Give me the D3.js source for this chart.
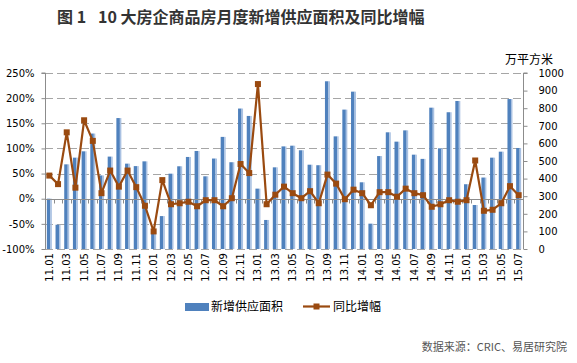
<!DOCTYPE html>
<html><head><meta charset="utf-8">
<script src="https://cdn.jsdelivr.net/npm/d3@7"></script>
<style>
html,body{margin:0;padding:0;background:#fff;}
svg{display:block;}
</style></head>
<body>
<svg id="chart" width="577" height="363"></svg>
<script>
const months = ["11.01","11.02","11.03","11.04","11.05","11.06","11.07","11.08","11.09","11.10","11.11","11.12",
"12.01","12.02","12.03","12.04","12.05","12.06","12.07","12.08","12.09","12.10","12.11","12.12",
"13.01","13.02","13.03","13.04","13.05","13.06","13.07","13.08","13.09","13.10","13.11","13.12",
"14.01","14.02","14.03","14.04","14.05","14.06","14.07","14.08","14.09","14.10","14.11","14.12",
"15.01","15.02","15.03","15.04","15.05","15.06","15.07"];
// 新增供应面积 (万平方米)
const supply = [286,138,481,519,555,656,418,525,744,485,471,498,
108,187,428,470,523,557,413,514,637,493,798,756,
343,165,464,583,587,561,479,476,953,640,792,894,
379,144,528,663,610,674,536,512,803,572,777,841,
368,250,406,519,553,852,574];
// 同比增幅 (%)
const yoy = [46,29,132,22,156,115,11,56,24,56,23,-14,
-65,37,-11,-9,-6,-15,-3,-3,-15,1,69,51,
228,-11,8,24,11,1,15,-9,48,30,-1,18,
11,-13,13,13,4,20,11,7,-16,-11,-3,-6,
-3,76,-24,-22,-9,25,7];
const leftTicks = [-100,-50,0,50,100,150,200,250];
const rightTicks = [0,100,200,300,400,500,600,700,800,900,1000];
const xLabels = months.filter((d,i)=>i%2===0);

const svg = d3.select("#chart");
const L=45, R=523, T=73, B=249;
const x = d3.scaleBand().domain(months).range([L,R]).padding(0);
const yL = d3.scaleLinear().domain([-100,250]).range([B,T]);
const yR = d3.scaleLinear().domain([0,1000]).range([B,T]);
const font = "'DejaVu Sans', Verdana, sans-serif";
const cjk = "'Noto Sans CJK SC', sans-serif";
const lineColor = "#9a4a10";
const barColor = "#4f81bd";

// title
svg.append("text").attr("x",57).attr("y",23).attr("font-family",cjk).attr("font-weight",700)
  .attr("font-size",16).attr("fill","#333").text("图 1");
svg.append("text").attr("x",98).attr("y",23).attr("font-family",cjk).attr("font-weight",700)
  .attr("font-size",16).attr("fill","#333").text("10 大房企商品房月度新增供应面积及同比增幅");

// gridlines
svg.append("g").selectAll("line").data(leftTicks.filter(d=>d!==0)).join("line")
  .attr("x1",L).attr("x2",R).attr("y1",d=>Math.round(yL(d))+0.5).attr("y2",d=>Math.round(yL(d))+0.5)
  .attr("stroke","#a6a6a6").attr("stroke-width",1).attr("stroke-dasharray","8,4");

// bars
const bw = 3.5, sw = 1.5;
const gb = svg.append("g");
gb.selectAll("rect.m").data(months).join("rect").attr("class","m")
  .attr("x",(d,i)=>x(d)+x.bandwidth()/2-2.5).attr("width",bw)
  .attr("y",(d,i)=>yR(supply[i])).attr("height",(d,i)=>B-yR(supply[i]))
  .attr("fill",barColor);
gb.selectAll("rect.s").data(months).join("rect").attr("class","s")
  .attr("x",(d,i)=>x(d)+x.bandwidth()/2-2.5+bw).attr("width",sw)
  .attr("y",(d,i)=>yR(supply[i])).attr("height",(d,i)=>B-yR(supply[i]))
  .attr("fill","#a9c1e2");

// zero axis (category axis)
const y0 = Math.round(yL(0))+0.5;
svg.append("line").attr("x1",L).attr("x2",R).attr("y1",y0).attr("y2",y0).attr("stroke","#8c8c8c");
svg.append("g").selectAll("line").data(months.concat(["end"])).join("line")
  .attr("x1",(d,i)=>Math.round(L+i*x.bandwidth())+0.5).attr("x2",(d,i)=>Math.round(L+i*x.bandwidth())+0.5)
  .attr("y1",y0).attr("y2",y0+4).attr("stroke","#8c8c8c");

// left axis
const axL = svg.append("g").attr("transform",`translate(${L+0.5},0)`)
  .call(d3.axisLeft(yL).tickValues(leftTicks).tickSize(4).tickPadding(7).tickFormat(d=>d+"%"));
axL.selectAll("path,line").attr("stroke","#8c8c8c");
axL.select(".domain").attr("d",`M-4,${T}H0V${B}`);
axL.selectAll("text").attr("font-family",font).attr("font-size",10).attr("fill","#000");

// right axis
const axR = svg.append("g").attr("transform",`translate(${R+0.5},0)`)
  .call(d3.axisRight(yR).tickValues(rightTicks).tickSize(4).tickPadding(11).tickFormat(d3.format("d")));
axR.selectAll("path,line").attr("stroke","#8c8c8c");
axR.select(".domain").attr("d",`M4,${T}H0V${B}`);
axR.selectAll("text").attr("font-family",font).attr("font-size",10).attr("fill","#000");

// unit
svg.append("text").attr("x",505).attr("y",64).attr("font-family",cjk).attr("font-size",12)
  .attr("fill","#000").text("万平方米");

// x labels
svg.append("g").selectAll("text").data(xLabels).join("text")
  .attr("transform",d=>`translate(${x(d)+x.bandwidth()/2},253) rotate(-90)`)
  .attr("dy","0.35em").attr("text-anchor","end")
  .attr("font-family",font).attr("font-size",10).attr("fill","#000").text(d=>d);

// line
const line = d3.line().x((d,i)=>x(months[i])+x.bandwidth()/2).y(d=>yL(d));
svg.append("path").datum(yoy).attr("d",line).attr("fill","none")
  .attr("stroke",lineColor).attr("stroke-width",2.2).attr("stroke-linejoin","round");
svg.append("g").selectAll("rect").data(yoy).join("rect")
  .attr("x",(d,i)=>x(months[i])+x.bandwidth()/2-3).attr("y",d=>yL(d)-3)
  .attr("width",6).attr("height",6).attr("fill",lineColor);

// legend
svg.append("rect").attr("x",185).attr("y",303).attr("width",24).attr("height",8).attr("fill",barColor);
svg.append("text").attr("x",211).attr("y",311).attr("font-family",cjk).attr("font-size",12)
  .attr("fill","#000").text("新增供应面积");
svg.append("line").attr("x1",303).attr("x2",330).attr("y1",306.5).attr("y2",306.5)
  .attr("stroke",lineColor).attr("stroke-width",2.2);
svg.append("rect").attr("x",313.5).attr("y",303.5).attr("width",6).attr("height",6).attr("fill",lineColor);
svg.append("text").attr("x",333).attr("y",311).attr("font-family",cjk).attr("font-size",12)
  .attr("fill","#000").text("同比增幅");

// source
svg.append("text").attr("x",567).attr("y",351).attr("text-anchor","end").attr("font-family",cjk)
  .attr("font-size",11).attr("fill","#555").text("数据来源：CRIC、易居研究院");
</script>
</body></html>
